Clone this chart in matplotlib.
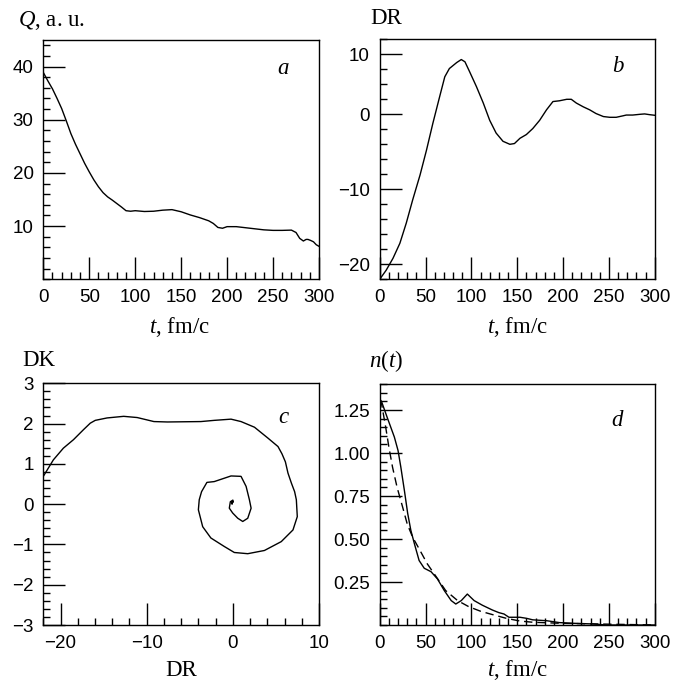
import matplotlib
matplotlib.use("Agg")
import matplotlib.pyplot as plt
from matplotlib.ticker import MultipleLocator, FixedLocator, FixedFormatter

# ---------------- data ----------------
# panel a: Q(t)
q_t = [0, 5, 10, 15, 20, 25, 30, 35, 40, 45, 50, 55, 60, 65, 70, 75, 80, 85, 90, 95,
       100, 110, 120, 130, 140, 150, 160, 170, 180, 185, 190, 195, 200, 210, 220, 230,
       240, 250, 260, 270, 275, 279, 283, 286, 288, 291, 294, 297, 300]
q_val = [38.9, 37.3, 35.8, 34.0, 32.1, 29.8, 27.4, 25.4, 23.6, 21.8, 20.2, 18.7, 17.4,
         16.3, 15.5, 14.9, 14.25, 13.6, 12.9, 12.8, 12.9, 12.75, 12.8, 13.0, 13.1, 12.7,
         12.1, 11.6, 11.0, 10.5, 9.75, 9.6, 9.9, 9.9, 9.7, 9.5, 9.3, 9.2, 9.2, 9.25, 8.8,
         7.7, 7.2, 7.5, 7.5, 7.3, 7.05, 6.5, 6.2]

# panel b: DR(t)
dr_t = [0, 7, 14.5, 22, 29, 36, 44, 51, 58, 65.5, 71, 76, 84, 89, 93, 98, 105.5, 113,
        120, 127, 134.5, 142, 147, 153, 160, 167, 174.5, 182, 189, 196, 204, 209, 214.5,
        222, 229, 236, 244, 251, 258, 265.5, 269, 276, 284, 289, 294.5, 300]
dr_val = [-22, -20.8, -19.2, -17.2, -14.5, -11.4, -8.1, -4.8, -1.2, 2.4, 5.0, 6.1, 6.9,
          7.3, 7.0, 5.7, 3.7, 1.5, -0.8, -2.5, -3.6, -4.0, -3.9, -3.2, -2.7, -1.9, -0.8,
          0.6, 1.7, 1.8, 2.0, 2.0, 1.5, 1.0, 0.6, 0.1, -0.3, -0.4, -0.4, -0.2, -0.1, -0.1,
          0.0, 0.05, -0.05, -0.13]
dr_tick_pos = [-20, -10, 0, 8]
dr_tick_lab = ["\u221220", "\u221210", "0", "10"]

# panel c: DK vs DR phase trajectory
c_dr = [-22, -20.83, -19.67, -18.5, -17.33, -16.55, -15.97, -14.6, -12.67, -11.1, -9.16,
        -7.6, -3.71, -2.16, -0.21, 0.95, 2.51, 4.07, 5.24, 5.7, 6.1, 6.4, 6.8, 7.17, 7.37,
        7.48, 6.98, 5.62, 3.67, 1.73, 0.17, -1.0, -2.55, -3.5, -4.0, -3.9, -3.63, -3.01,
        -2.16, -0.21, 0.95, 1.54, 1.92, 2.12, 1.73, 1.15, 0.57, -0.02, -0.41, -0.29, 0.0,
        -0.1, 0.0, -0.1, 0.0]
c_dk = [0.69, 1.1, 1.39, 1.6, 1.85, 2.01, 2.08, 2.14, 2.18, 2.15, 2.05, 2.04, 2.05, 2.08,
        2.11, 2.05, 1.91, 1.64, 1.43, 1.25, 1.05, 0.77, 0.52, 0.31, 0.11, -0.31, -0.64,
        -0.93, -1.15, -1.23, -1.2, -1.05, -0.84, -0.56, -0.14, 0.11, 0.31, 0.54, 0.56,
        0.70, 0.69, 0.44, 0.11, -0.10, -0.35, -0.43, -0.35, -0.22, -0.10, 0.06, 0.10, 0.0,
        0.08, 0.02, 0.05]

# panel d: n(t), solid and dashed
n_t = [0, 2, 8, 16, 20, 23, 27, 30.5, 34, 38, 43, 48.6, 56, 63, 70.5, 78, 83, 89, 95.6,
       103, 112, 123, 130, 135.6, 141, 153, 160, 167, 182, 196, 211, 233, 247, 300]
n_val = [1.315, 1.30, 1.21, 1.093, 1.015, 0.92, 0.78, 0.65, 0.55, 0.47, 0.375, 0.33,
         0.31, 0.268, 0.2, 0.142, 0.122, 0.142, 0.18, 0.142, 0.115, 0.087, 0.072, 0.064,
         0.045, 0.045, 0.039, 0.03, 0.025, 0.014, 0.01, 0.006, 0.0, 0.0]
nd_t = [0, 2, 6.5, 10, 14, 19, 25, 30, 36, 43, 52, 62, 72, 85, 97, 110, 122, 138, 153,
        167, 197, 237, 270, 300]
nd_val = [1.31, 1.287, 1.152, 1.035, 0.918, 0.80, 0.686, 0.588, 0.51, 0.443, 0.355,
          0.278, 0.2, 0.142, 0.107, 0.08, 0.062, 0.039, 0.023, 0.016, 0.01, 0.006, 0.003,
          0.0]

# ---------------- style ----------------
plt.rcParams["mathtext.fontset"] = "custom"
plt.rcParams["mathtext.rm"] = "Liberation Serif"
plt.rcParams["mathtext.it"] = "Liberation Serif:italic"
TICKFONT = "Liberation Sans"
SERIF = "Liberation Serif"
TFS = 13.5
LFS = 16.5

fig = plt.figure(figsize=(6.73, 6.83), dpi=100)
W, H = 673.0, 683.0


def box(l, r, t, b):
    return [l / W, 1 - b / H, (r - l) / W, (b - t) / H]


axa = fig.add_axes(box(43.3, 319, 40, 279.3))
axb = fig.add_axes(box(379.7, 654.7, 39.3, 279.3))
axc = fig.add_axes(box(43.3, 319, 383.3, 625))
axd = fig.add_axes(box(379.7, 654.7, 384.3, 625))


def style(ax):
    for s in ax.spines.values():
        s.set_linewidth(1.0)
    ax.tick_params(which="both", direction="in", top=False, right=False,
                   width=1.0, labelsize=TFS, pad=7)
    ax.tick_params(which="major", length=15.5)
    ax.tick_params(which="minor", length=5.3)
    for lab in ax.get_xticklabels() + ax.get_yticklabels():
        lab.set_fontfamily(TICKFONT)


def time_axis(ax):
    ax.set_xlim(0, 300)
    ax.xaxis.set_major_locator(MultipleLocator(50))
    ax.xaxis.set_minor_locator(MultipleLocator(10))


# panel a
axa.plot(q_t, q_val, color="black", lw=1.0)
time_axis(axa)
axa.set_ylim(0, 45)
axa.yaxis.set_major_locator(FixedLocator([10, 20, 30, 40]))
axa.yaxis.set_minor_locator(MultipleLocator(2))
style(axa)

# panel b
axb.plot(dr_t, dr_val, color="black", lw=1.0)
time_axis(axb)
axb.set_ylim(-22, 10)
axb.yaxis.set_major_locator(FixedLocator(dr_tick_pos))
axb.yaxis.set_major_formatter(FixedFormatter(dr_tick_lab))
axb.yaxis.set_minor_locator(MultipleLocator(2))
style(axb)

# panel c
axc.plot(c_dr, c_dk, color="black", lw=1.0)
axc.set_xlim(-22, 10)
axc.set_ylim(-3, 3)
axc.xaxis.set_major_locator(FixedLocator([-20, -10, 0, 10]))
axc.xaxis.set_major_formatter(FixedFormatter(["\u221220", "\u221210", "0", "10"]))
axc.xaxis.set_minor_locator(MultipleLocator(2))
axc.yaxis.set_major_locator(FixedLocator([-3, -2, -1, 0, 1, 2, 3]))
axc.yaxis.set_major_formatter(FixedFormatter(["\u22123", "\u22122", "\u22121", "0", "1", "2", "3"]))
axc.yaxis.set_minor_locator(MultipleLocator(0.2))
style(axc)

# panel d
axd.plot(n_t, n_val, color="black", lw=1.0)
axd.plot(nd_t, nd_val, color="black", lw=1.0, dashes=(6, 3.5))
time_axis(axd)
axd.set_ylim(0, 1.4)
axd.yaxis.set_major_locator(FixedLocator([0.25, 0.5, 0.75, 1.0, 1.25]))
axd.yaxis.set_major_formatter(FixedFormatter(["0.25", "0.50", "0.75", "1.00", "1.25"]))
axd.yaxis.set_minor_locator(MultipleLocator(0.05))
style(axd)

# axis labels (figure pixel positions)
def ftext(x, y, s, **kw):
    fig.text(x / W, 1 - y / H, s, fontfamily=SERIF, fontsize=LFS, **kw)

ftext(179, 327, "$t$, fm/c", ha="center", va="center")
ftext(517, 327, "$t$, fm/c", ha="center", va="center")
ftext(181, 670, "DR", ha="center", va="center")
ftext(517, 670, "$t$, fm/c", ha="center", va="center")
ftext(18, 20, "$Q$, a. u.", ha="left", va="center")
ftext(370, 19, "DR", ha="left", va="center")
ftext(22, 360, "DK", ha="left", va="center")
ftext(369, 361, "$n$($t$)", ha="left", va="center")

# panel letters
ftext(283, 68, "$a$", ha="center", va="center")
ftext(618, 67, "$b$", ha="center", va="center")
ftext(284, 417, "$c$", ha="center", va="center")
ftext(618, 420, "$d$", ha="center", va="center")

fig.savefig("out.png", dpi=100)
